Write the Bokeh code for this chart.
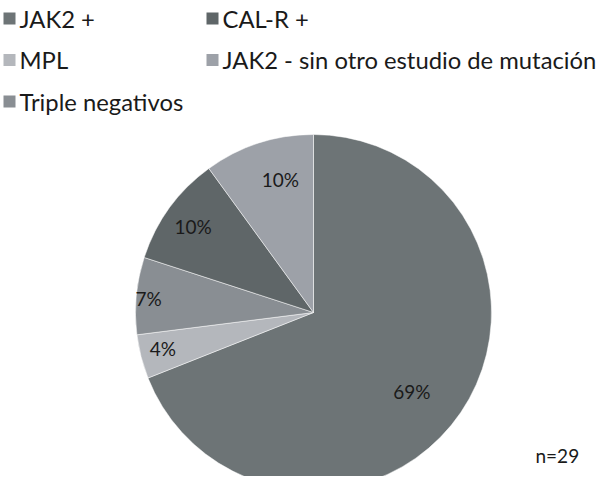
import math
from bokeh.plotting import figure
from bokeh.models import Range1d, ColumnDataSource
from bokeh.core.properties import value
from bokeh.embed import file_html
from bokeh.resources import INLINE

# data (clockwise from 12 o'clock)
categories = ["JAK2 +", "MPL", "Triple negativos", "CAL-R +", "JAK2 - sin otro estudio de mutación"]
percents = [69, 4, 7, 10, 10]
labels = ["69%", "4%", "7%", "10%", "10%"]
colors = ["#6d7476", "#b4b7bc", "#898e93", "#5f6668", "#9da1a8"]
# legend order (row-major, two columns)
legend_order = ["JAK2 +", "CAL-R +", "MPL", "JAK2 - sin otro estudio de mutación", "Triple negativos"]
note = "n=29"

W, H = 605, 476
FONT = "Lato"
p = figure(width=W, height=H, output_backend="svg", toolbar_location=None,
           x_range=Range1d(0, W), y_range=Range1d(0, H), min_border=0)
p.axis.visible = False
p.grid.visible = False
p.outline_line_color = None
p.background_fill_color = "white"

cx, cy, r = 313, 164, 178
total = sum(percents)
starts, ends, mids = [], [], []
a = math.pi / 2
for v in percents:
    span = v / total * 2 * math.pi
    starts.append(a)
    ends.append(a - span)
    mids.append(a - span / 2)
    a -= span

src = ColumnDataSource(dict(start=starts, end=ends, color=colors))
p.wedge(x=cx, y=cy, radius=r, start_angle="start", end_angle="end", direction="clock",
        fill_color="color", line_color="white", line_width=0.5, source=src)

label_r = [0.71, 0.87, 0.93, 0.83, 0.77]
label_dtheta = [-4.7, -0.9, 0.4, 0.6, -4.0]
lx = [cx + f * r * math.cos(m + math.radians(d)) for f, m, d in zip(label_r, mids, label_dtheta)]
ly = [cy + f * r * math.sin(m + math.radians(d)) for f, m, d in zip(label_r, mids, label_dtheta)]
p.text(x=lx, y=ly, text=labels, text_font=value(FONT), text_font_size="19px",
       text_color="#1a1a1a", text_align="center", text_baseline="middle")

# legend
col_sq = [9, 212]
row_y0, row_gap = 458, 41.5
cmap = dict(zip(categories, colors))
sx, sy, tx, ty, tt, sc = [], [], [], [], [], []
for i, name in enumerate(legend_order):
    c, rw = i % 2, i // 2
    y = row_y0 - rw * row_gap
    sx.append(col_sq[c]); sy.append(y); sc.append(cmap[name])
    tx.append(col_sq[c] + 10); ty.append(y); tt.append(name)
p.rect(x=sx, y=sy, width=12, height=12, fill_color=sc, line_color=None)
p.text(x=tx, y=ty, text=tt, text_font=value(FONT), text_font_size="23.8px",
       text_color="#1a1a1a", text_align="left", text_baseline="middle")

p.text(x=[535], y=[21], text=[note], text_font=value(FONT), text_font_size="19px",
       text_color="#1a1a1a", text_align="left", text_baseline="middle")

open("out.html", "w").write(file_html(p, INLINE))
